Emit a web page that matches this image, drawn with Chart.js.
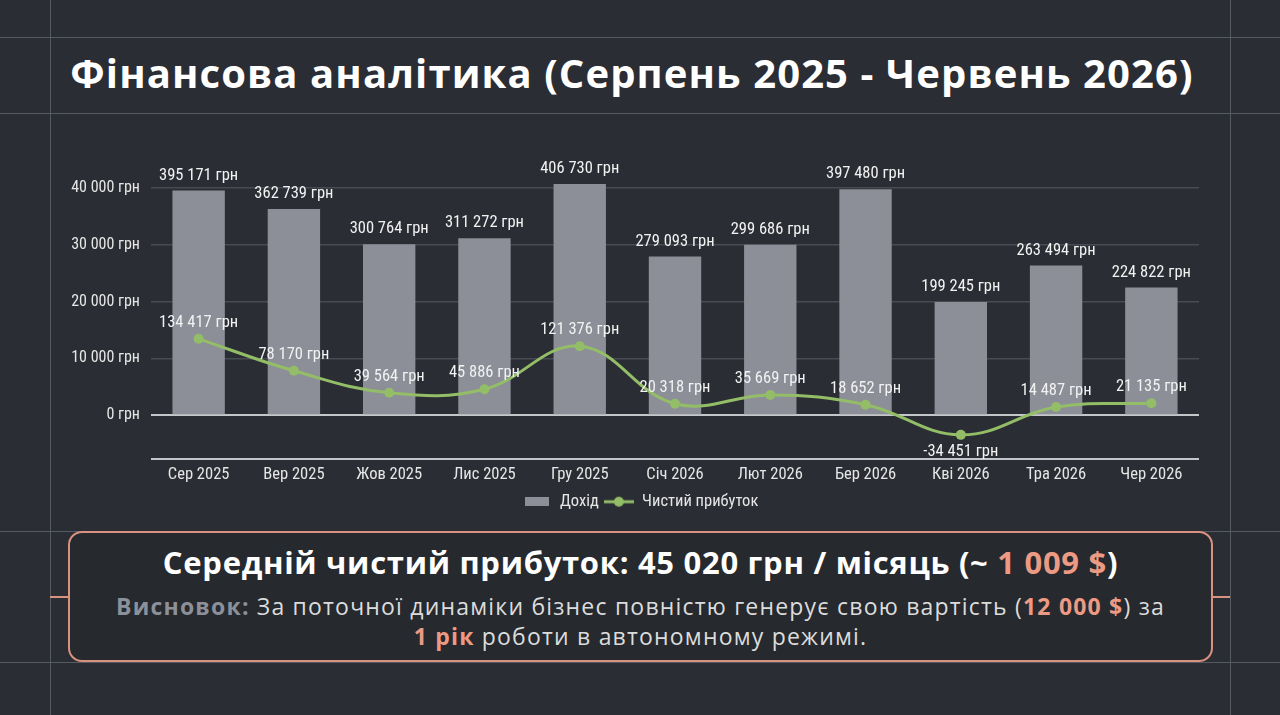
<!DOCTYPE html>
<html lang="uk">
<head>
<meta charset="utf-8">
<script src="https://cdn.jsdelivr.net/npm/chart.js@4.4.1/dist/chart.umd.min.js"></script>
<style>
  html,body{margin:0;padding:0;}
  body{width:1280px;height:715px;overflow:hidden;position:relative;background:#2a2d33;font-family:'Open Sans','Noto Sans',sans-serif;}
  .hl{position:absolute;left:0;width:1280px;height:1px;background:#565a62;}
  .vl{position:absolute;top:0;width:1px;height:715px;background:#565a62;}
  #title{position:absolute;left:-8px;top:48px;width:1280px;text-align:center;margin:0;color:#ffffff;font-weight:700;font-size:40px;line-height:50px;letter-spacing:1.1px;}
  #chartWrap{position:absolute;left:0;top:140px;width:1280px;height:380px;}
  #box{position:absolute;left:68px;top:531px;width:1145px;height:131px;box-sizing:border-box;border:2.5px solid #d99180;border-radius:14px;background:#26292e;text-align:center;}
  .conn{position:absolute;height:2px;background:#d99180;top:596px;}
  #l1{position:absolute;left:0;width:100%;top:9px;color:#fff;font-weight:700;font-size:31px;line-height:40px;letter-spacing:0.7px;}
  #l2{position:absolute;left:0;width:100%;top:58px;color:#dcdcdc;font-size:23px;line-height:30px;letter-spacing:1.2px;}
  .hi{color:#ec9a83;font-weight:700;}
  .gr{color:#8c9099;font-weight:700;}
</style>
</head>
<body>
<div class="hl" style="top:37px"></div>
<div class="hl" style="top:113px"></div>
<div class="hl" style="top:531px"></div>
<div class="hl" style="top:662px"></div>
<div class="vl" style="left:50px"></div>
<div class="vl" style="left:1230px"></div>

<h1 id="title">Фінансова аналітика (Серпень 2025 - Червень 2026)</h1>

<div id="chartWrap"><canvas id="c"></canvas></div>

<div class="conn" style="left:50px;width:19px"></div>
<div class="conn" style="left:1212px;width:18px"></div>
<div id="box">
  <div id="l1">Середній чистий прибуток: 45 020 грн / місяць (~ <span class="hi">1 009 $</span>)</div>
  <div id="l2"><span class="gr">Висновок:</span> За поточної динаміки бізнес повністю генерує свою вартість (<span class="hi">12 000 $</span>) за<br><span class="hi">1 рік</span> роботи в автономному режимі.</div>
</div>

<script>
// ---- data ----
const months = ['Сер 2025','Вер 2025','Жов 2025','Лис 2025','Гру 2025','Січ 2026','Лют 2026','Бер 2026','Кві 2026','Тра 2026','Чер 2026'];
const revenue = [395171, 362739, 300764, 311272, 406730, 279093, 299686, 397480, 199245, 263494, 224822];
const netProfit = [134417, 78170, 39564, 45886, 121376, 20318, 35669, 18652, -34451, 14487, 21135];
const yTickValues = [0, 100000, 200000, 300000, 400000];
const yTickLabels = ['0 грн', '10 000 грн', '20 000 грн', '30 000 грн', '40 000 грн'];
const seriesNames = ['Дохід', 'Чистий прибуток'];

// ---- styles ----
const barColor = '#8c8f98';
const lineColor = '#93bd66';
const textColor = '#e6e6e6';
const yMin = -76000, yMax = 440000;

Chart.defaults.font.family = "'Liberation Sans Narrow','Roboto Condensed','DejaVu Sans Condensed',Roboto,sans-serif";
Chart.defaults.color = textColor;

function fmt(v){
  const s = String(Math.abs(v)).replace(/\B(?=(\d{3})+(?!\d))/g, ' ');
  return (v < 0 ? '-' : '') + s + ' грн';
}

function legendIcon(kind){
  const c = document.createElement('canvas');
  if (kind === 'bar'){
    c.width = 24; c.height = 9;
    const x = c.getContext('2d');
    x.fillStyle = barColor; x.fillRect(0, 0, 24, 9);
  } else {
    c.width = 30; c.height = 12;
    const x = c.getContext('2d');
    x.strokeStyle = lineColor; x.lineWidth = 3;
    x.beginPath(); x.moveTo(0, 6); x.lineTo(30, 6); x.stroke();
    x.fillStyle = lineColor; x.beginPath(); x.arc(15, 6, 5, 0, Math.PI*2); x.fill();
  }
  return c;
}

const valueLabels = {
  id: 'valueLabels',
  afterDatasetsDraw(chart){
    const ctx = chart.ctx;
    ctx.save();
    ctx.font = "16.5px " + Chart.defaults.font.family;
    ctx.fillStyle = '#f2f2f2';
    ctx.textAlign = 'center';
    ctx.textBaseline = 'middle';
    chart.data.datasets.forEach((ds, i) => {
      const meta = chart.getDatasetMeta(i);
      meta.data.forEach((el, j) => {
        const v = ds.data[j];
        let y;
        if (meta.type === 'bar') y = el.y - 15;
        else y = v < 0 ? el.y + 17 : el.y - 16;
        ctx.fillText(fmt(v), el.x, y);
      });
    });
    ctx.restore();
  }
};

new Chart(document.getElementById('c'), {
  type: 'bar',
  data: {
    labels: months,
    datasets: [
      {
        type: 'bar', label: seriesNames[0], data: revenue,
        backgroundColor: barColor, borderWidth: 0,
        barPercentage: 0.55, categoryPercentage: 1.0, order: 2
      },
      {
        type: 'line', label: seriesNames[1], data: netProfit,
        borderColor: lineColor, backgroundColor: lineColor, borderWidth: 3,
        pointRadius: 5, pointBackgroundColor: lineColor, pointBorderWidth: 0,
        tension: 0.4, order: 1
      }
    ]
  },
  options: {
    responsive: true,
    maintainAspectRatio: false,
    animation: false,
    devicePixelRatio: 1,
    layout: { padding: { top: 25, right: 0, bottom: 0, left: 0 } },
    plugins: {
      tooltip: { enabled: false },
      legend: {
        display: true, position: 'bottom',
        labels: {
          usePointStyle: true, pointStyleWidth: 30, padding: 5,
          color: textColor, font: { size: 16.5 },
          generateLabels(chart){
            return chart.data.datasets.map((ds, i) => ({
              text: ds.label, datasetIndex: i, fontColor: textColor,
              pointStyle: legendIcon(i === 0 ? 'bar' : 'line'),
              fillStyle: 'transparent', strokeStyle: 'transparent', lineWidth: 0, hidden: false
            }));
          }
        }
      }
    },
    scales: {
      x: {
        grid: { display: false, drawTicks: false },
        border: { display: false },
        ticks: { color: textColor, font: { size: 16.5 }, padding: 6, maxRotation: 0 },
        afterFit(s){ s.height = 30; }
      },
      y: {
        min: yMin, max: yMax,
        afterBuildTicks(s){
          s.ticks = [{ value: yMin }].concat(yTickValues.map(v => ({ value: v })));
        },
        afterFit(s){ s.width = 151; },
        border: { display: false },
        grid: {
          drawTicks: false,
          color: c => (c.tick && (c.tick.value === 0 || c.tick.value === yMin)) ? '#c4c6ca' : '#474b53',
          lineWidth: c => (c.tick && (c.tick.value === 0 || c.tick.value === yMin)) ? 2 : 1.5
        },
        ticks: {
          color: textColor, font: { size: 16 }, padding: 11,
          callback: v => { const i = yTickValues.indexOf(v); return i >= 0 ? yTickLabels[i] : ''; }
        }
      },
      yRight: {
        position: 'right', display: true,
        grid: { display: false, drawTicks: false },
        border: { display: false },
        ticks: { display: false },
        afterFit(s){ s.width = 81; }
      }
    }
  },
  plugins: [valueLabels]
});
</script>
</body>
</html>
